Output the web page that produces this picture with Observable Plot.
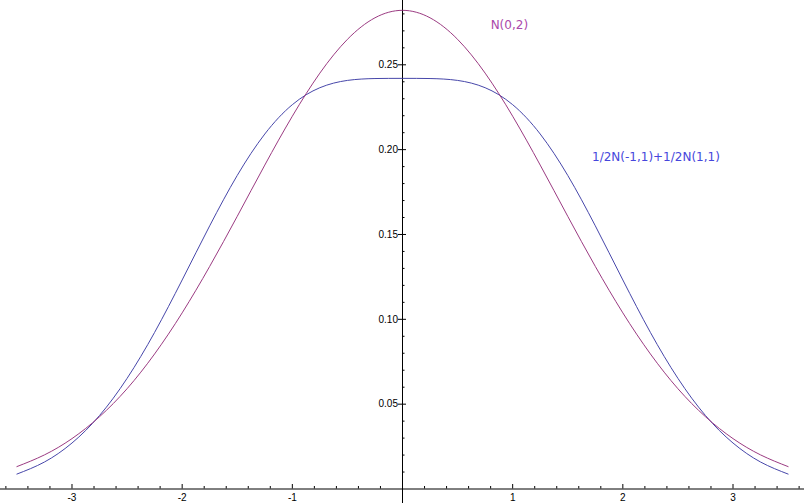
<!DOCTYPE html>
<html>
<head>
<meta charset="utf-8">
<script src="https://cdn.jsdelivr.net/npm/d3@7"></script>
<script src="https://cdn.jsdelivr.net/npm/@observablehq/plot@0.6"></script>
<style>
  html, body { margin: 0; padding: 0; background: #fff; }
  #chart svg { display: block; }
</style>
</head>
<body>
<div id="chart"></div>
<script>
// x positions (read along the horizontal axis)
const xs = [-3.5, -3.25, -3, -2.75, -2.5, -2.25, -2, -1.75, -1.5, -1.25, -1, -0.75, -0.5, -0.25, 0,
            0.25, 0.5, 0.75, 1, 1.25, 1.5, 1.75, 2, 2.25, 2.5, 2.75, 3, 3.25, 3.5];
// N(0,2) density values
const normal02 = [0.0132, 0.0201, 0.0297, 0.0426, 0.0591, 0.0796, 0.1038, 0.1312, 0.1607, 0.1909, 0.2197, 0.2451, 0.2650, 0.2777, 0.2821,
                  0.2777, 0.2650, 0.2451, 0.2197, 0.1909, 0.1607, 0.1312, 0.1038, 0.0796, 0.0591, 0.0426, 0.0297, 0.0201, 0.0132];
// 1/2N(-1,1)+1/2N(1,1) values
const mixture = [0.0088, 0.0159, 0.0271, 0.0433, 0.0652, 0.0923, 0.1232, 0.1551, 0.1848, 0.2092, 0.2265, 0.2365, 0.2408, 0.2419, 0.2420,
                 0.2419, 0.2408, 0.2365, 0.2265, 0.2092, 0.1848, 0.1551, 0.1232, 0.0923, 0.0652, 0.0433, 0.0271, 0.0159, 0.0088];
// tick labels
const xTickLabels = [-3, -2, -1, 1, 2, 3];
const yTickLabels = [0.05, 0.10, 0.15, 0.20, 0.25];
const seriesNames = ["N(0,2)", "1/2N(-1,1)+1/2N(1,1)"];

const xMinor = d3.range(-18, 19).map(i => i / 5).filter(v => Math.abs(v) > 1e-9);
const yMinor = d3.range(1, 29).map(i => i / 100);

const red = "#9b3b82", blue = "#4747aa";
const redText = "#ab48ab", blueText = "#4646dc";

const W = 804, H = 503;
const xRange = [16.4, 787.6], yRange = [488.5, 64.3];
const pxX = (xRange[1] - xRange[0]) / 7;      // pixels per x unit
const pxY = (yRange[0] - yRange[1]) / 0.25;   // pixels per y unit

const tableN = xs.map((x, i) => ({x, y: normal02[i]}));
const tableM = xs.map((x, i) => ({x, y: mixture[i]}));

const isMajorX = v => Math.abs(v - Math.round(v)) < 1e-9;
const isMajorY = v => Math.abs(v * 20 - Math.round(v * 20)) < 1e-9;

const chart = Plot.plot({
  width: W,
  height: H,
  margin: 0,
  style: {background: "#fff", overflow: "visible"},
  x: {domain: [-3.5, 3.5], range: xRange, axis: null},
  y: {domain: [0, 0.25], range: yRange, axis: null},
  marks: [
    Plot.ruleY([0], {stroke: "#000", strokeWidth: 1}),
    Plot.ruleX([0], {stroke: "#000", strokeWidth: 1}),
    // x ticks (pointing up)
    Plot.ruleX(xMinor, {x: d => d, y1: 0, y2: d => (isMajorX(d) ? 4.5 : 2.5) / pxY, stroke: "#000", strokeWidth: 1}),
    // y ticks (pointing right, majors crossing)
    Plot.ruleY(yMinor, {y: d => d, x1: d => (isMajorY(d) ? -4 : 0) / pxX, x2: d => (isMajorY(d) ? 4 : 2.5) / pxX, stroke: "#000", strokeWidth: 1}),
    Plot.text(xTickLabels, {x: d => d, y: 0, dy: 9, text: d => String(d), fontSize: 10, fontFamily: "Liberation Sans", fill: "#000"}),
    Plot.text(yTickLabels, {x: 0, y: d => d, dx: -4.5, textAnchor: "end", text: d => d.toFixed(2), fontSize: 10, fontFamily: "Liberation Sans", fill: "#000"}),
    Plot.line(tableM, {x: "x", y: "y", stroke: blue, strokeWidth: 1, curve: "natural"}),
    Plot.line(tableN, {x: "x", y: "y", stroke: red, strokeWidth: 1, curve: "natural"}),
    Plot.text([seriesNames[0]], {x: 0.80, y: 0.2731, text: d => d, textAnchor: "start", fontSize: 12, fontFamily: "DejaVu Sans", fill: redText}),
    Plot.text([seriesNames[1]], {x: 1.72, y: 0.1955, text: d => d, textAnchor: "start", fontSize: 12, fontFamily: "DejaVu Sans", fill: blueText})
  ]
});
document.getElementById("chart").append(chart);
</script>
</body>
</html>
